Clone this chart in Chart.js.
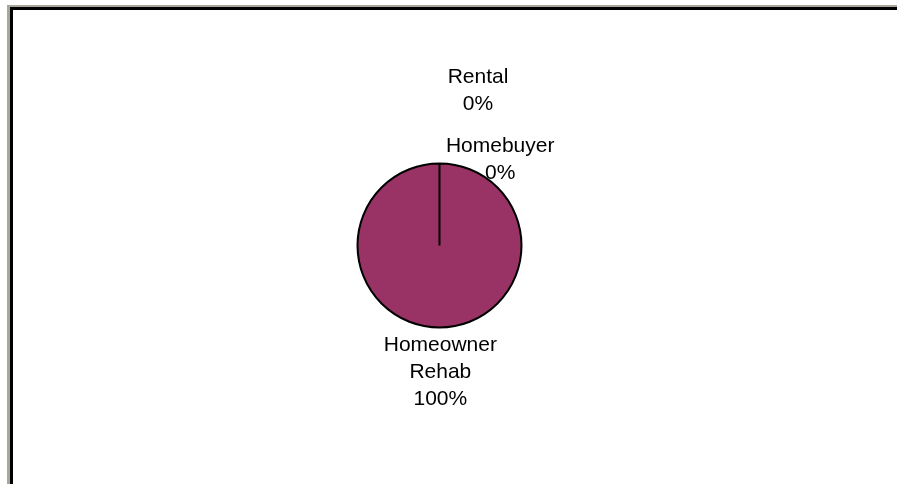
<!DOCTYPE html>
<html>
<head>
<meta charset="utf-8">
<script src="https://cdn.jsdelivr.net/npm/chart.js@4/dist/chart.umd.min.js"></script>
<style>
  html, body { margin: 0; padding: 0; background: #fff; }
  .frame-outer {
    position: absolute; left: 7px; top: 5px; width: 890px; height: 479px;
    border-left: 3px solid #a9a79a; border-top: 2px solid #a9a79a;
    box-sizing: border-box;
  }
  .frame-inner {
    width: 100%; height: 100%;
    border-left: 3px solid #000; border-top: 3px solid #000;
    box-sizing: border-box; position: relative;
  }
  #pie { position: absolute; left: 0; top: 0; }
</style>
</head>
<body>
<div class="frame-outer"><div class="frame-inner">
  <canvas id="pie" width="884" height="474"></canvas>
</div></div>
<script>
const categories = ['Homeowner Rehab', 'Homebuyer', 'Rental'];
const values = [100, 0, 0];
// label text lines per slice
const labelLines = [['Homeowner', 'Rehab'], ['Homebuyer'], ['Rental']];
// where each label sits, in multiples of the pie radius from its centre
const labelOffsets = [[0.01, 1.29], [0.74, -1.14], [0.47, -1.98]];

const total = values.reduce((a, b) => a + b, 0);

const pieLabels = {
    id: 'pieLabels',
    afterDatasetsDraw(chart) {
        const { ctx } = chart;
        const arcs = chart.getDatasetMeta(0).data;
        ctx.save();
        ctx.fillStyle = '#000';
        ctx.font = '21px "Liberation Sans", Arial, sans-serif';
        ctx.textAlign = 'center';
        ctx.textBaseline = 'alphabetic';
        arcs.forEach((arc, i) => {
            const r = arc.outerRadius;
            const x = arc.x + labelOffsets[i][0] * r;
            const y = arc.y + labelOffsets[i][1] * r;
            const pct = Math.round(values[i] / total * 100) + '%';
            const lines = [...labelLines[i], pct];
            lines.forEach((t, k) => ctx.fillText(t, x, y + k * 27));
        });
        ctx.restore();
    }
};

new Chart(document.getElementById('pie'), {
    type: 'pie',
    data: {
        labels: categories,
        datasets: [{
            data: values,
            backgroundColor: ['#993366', '#9999ff', '#ffffcc'],
            borderColor: '#000',
            borderWidth: 2
        }]
    },
    options: {
        responsive: false,
        animation: false,
        layout: { padding: { left: 343.5, top: 152.5, right: 374.5, bottom: 155.5 } },
        plugins: {
            legend: { display: false },
            tooltip: { enabled: false }
        }
    },
    plugins: [pieLabels]
});
</script>
</body>
</html>
